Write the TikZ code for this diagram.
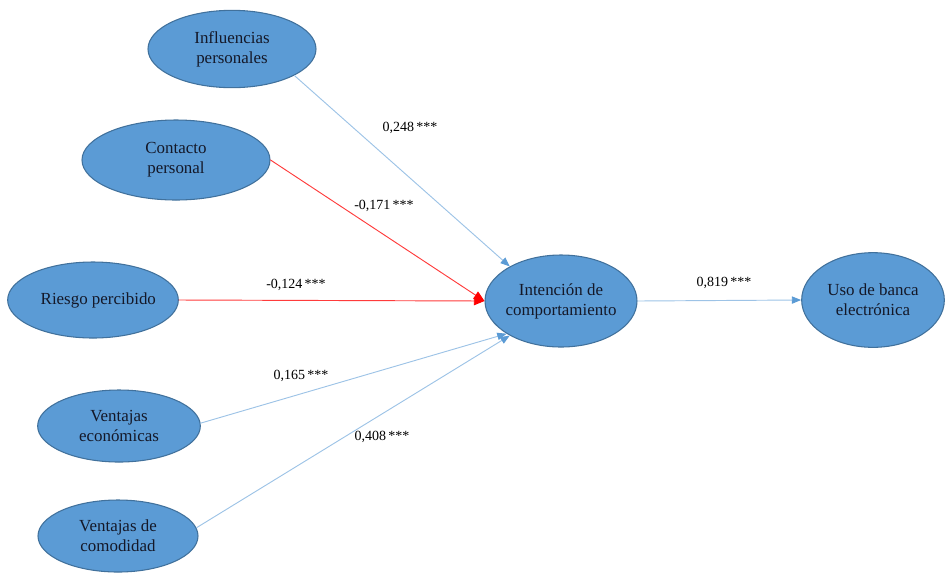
\documentclass[tikz,border=0pt]{standalone}
\usepackage{fontspec}
\setmainfont{Liberation Serif}
\usetikzlibrary{arrows.meta,shapes.geometric}
\definecolor{ModelFill}{HTML}{5B9BD5}
\definecolor{ModelEdge}{HTML}{41719C}
\definecolor{ModelText}{HTML}{141828}
\definecolor{ModelPath}{HTML}{9DC3E6}
\definecolor{ModelTip}{HTML}{5B9BD5}
\definecolor{ModelNeg}{HTML}{FF3B3B}
\tikzset{
    model/diagram/.style={
        line cap=round,
        line join=round,
        every node/.style={inner sep=2pt}
    },
    model/construct/.style={
        ellipse, draw=ModelEdge, fill=ModelFill, line width=0.8pt,
        text=ModelText, align=center, inner xsep=-8pt, inner ysep=0pt,
        font=\fontsize{12.7}{15}\selectfont
    },
    model/path/.style={
        draw=ModelPath, line width=0.7pt,
        -{Triangle[length=7pt, width=5.5pt, color=ModelTip, fill=ModelTip]}
    },
    model/negative/.style={
        draw=ModelNeg, line width=0.7pt,
        -{Triangle[length=8pt, width=6.5pt, color=red, fill=red]}
    },
    model/coef/.style={font=\fontsize{10.5}{12}\selectfont, text=black}
}
\begin{document}
\begin{tikzpicture}[model/diagram, x=0.75pt, y=-0.75pt]
    \useasboundingbox (0,0) rectangle (945,576);

    \node[model/construct, minimum width=126pt, minimum height=58pt]
        (influ) at (232,49) {Influencias\\personales};
    \node[model/construct, minimum width=141pt, minimum height=60pt]
        (contacto) at (176,160) {Contacto\\personal};
    \node[model/construct, minimum width=128pt, minimum height=57pt]
        (riesgo) at (93,300) {\hspace*{8pt}Riesgo percibido};
    \node[model/construct, minimum width=122pt, minimum height=54pt]
        (econ) at (119,426) {Ventajas\\económicas};
    \node[model/construct, minimum width=120pt, minimum height=54pt]
        (comod) at (118,536) {Ventajas de\\comodidad};
    \node[model/construct, minimum width=114pt, minimum height=69pt]
        (intencion) at (561,301) {Intención de\\comportamiento};
    \node[model/construct, minimum width=107pt, minimum height=71pt]
        (uso) at (873,300) {Uso de banca\\electrónica};

    \draw[model/path] (influ.-23) -- (intencion.146);
    \draw[model/negative] (contacto.east) -- (intencion.west);
    \draw[model/negative] (riesgo.east) -- (intencion.west);
    \draw[model/path] (econ.2) -- (intencion.211);
    \draw[model/path] (comod.6) -- (intencion.214);
    \draw[model/path] (intencion.east) -- (uso.west);

    \node[model/coef] (b1) at (410,128) {0,248\,***};
    \node[model/coef] (b2) at (384,206) {-0,171\,***};
    \node[model/coef] (b3) at (296,285) {-0,124\,***};
    \node[model/coef] (b4) at (301,376) {0,165\,***};
    \node[model/coef] (b5) at (382,437) {0,408\,***};
    \node[model/coef] (b6) at (724,283) {0,819\,***};
\end{tikzpicture}
\end{document}
